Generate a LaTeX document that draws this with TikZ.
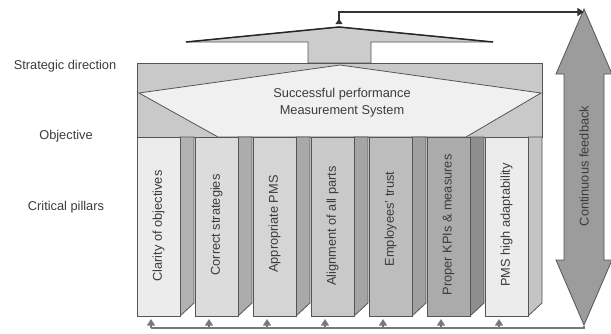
\documentclass[tikz,border=0pt]{standalone}
\usepackage{fontspec}
\setmainfont{Liberation Sans}
\usetikzlibrary{arrows.meta}
\definecolor{edge}{HTML}{555555}
\definecolor{boxfill}{HTML}{C9C9C9}
\definecolor{banfill}{HTML}{F0F0F0}
\definecolor{rooffill}{HTML}{CCCCCC}
\definecolor{txt}{HTML}{3C3C3C}
\definecolor{fbfill}{HTML}{9C9C9C}
\definecolor{fbline}{HTML}{787878}
\definecolor{f1}{HTML}{ECECEC}\definecolor{s1}{HTML}{B2B2B2}
\definecolor{f2}{HTML}{DCDCDC}\definecolor{s2}{HTML}{ACACAC}
\definecolor{f3}{HTML}{D5D5D5}\definecolor{s3}{HTML}{A9A9A9}
\definecolor{f4}{HTML}{C9C9C9}\definecolor{s4}{HTML}{A5A5A5}
\definecolor{f5}{HTML}{BDBDBD}\definecolor{s5}{HTML}{A0A0A0}
\definecolor{f6}{HTML}{ABABAB}\definecolor{s6}{HTML}{8E8E8E}
\definecolor{f7}{HTML}{ECECEC}\definecolor{s7}{HTML}{C4C4C4}
\begin{document}
\begin{tikzpicture}[x=0.75pt,y=-0.75pt,
  shape line/.style={draw=edge,line width=0.6pt,line join=miter},
  label text/.style={text=txt,font=\fontsize{9.6}{11}\selectfont,inner sep=0pt},
  ptext/.style={label text,rotate=90},
  topline/.style={draw=black!80,line width=1.4pt,{Triangle[reversed,width=5pt,length=4pt]}-{Triangle[width=6pt,length=5pt]}},
  botline/.style={draw=fbline,line width=2.2pt},
  stemline/.style={draw=fbline,line width=1.2pt,-{Triangle[width=6pt,length=5pt]}}]
\useasboundingbox (0,0) rectangle (611,333);
\fill[white] (0,0) rectangle (611,333);

% roof arrow
\filldraw[shape line,fill=rooffill] (186,42) -- (339,27) -- (493,42) -- (371,42) -- (371,63) -- (308,63) -- (308,42) -- cycle;
\draw[line width=1.1pt,black!85] (186,42) -- (339,27) -- (493,42);

% main box (strategic direction)
\filldraw[shape line,fill=boxfill] (137,63) rectangle (542,137);
% banner (objective)
\filldraw[shape line,fill=banfill] (139,93) -- (340,65) -- (541,93) -- (466,137) -- (218,137) -- cycle;
\node[label text,align=center] (obj) at (342,103) {Successful performance\\[1.5pt]Measurement System};

% pillars
\foreach \i/\fc/\sc/\t/\ty in {
  0/f1/s1/{Clarity of objectives}/226,
  1/f2/s2/{Correct strategies}/225,
  2/f3/s3/{Appropriate PMS}/224,
  3/f4/s4/{Alignment of all parts}/226,
  4/f5/s5/{Employees’ trust}/219,
  5/f6/s6/{Proper KPIs \& measures}/225,
  6/f7/s7/{PMS high adaptability}/225}{
  \pgfmathsetmacro\xa{137+58*\i}
  \filldraw[shape line,fill=\sc] (\xa+43,137) -- (\xa+57,137) -- (\xa+57,303) -- (\xa+43,316) -- cycle;
  \filldraw[shape line,fill=\fc] (\xa,137) rectangle (\xa+43,316);
  \node[ptext] (pt\i) at (\xa+21.5,\ty) {\t};
  \coordinate (b\i) at (151+58*\i,319);
}

% left labels
\node[label text] (lsd) at (65,66) {Strategic direction};
\node[label text] (lob) at (66,136) {Objective};
\node[label text] (lcp) at (66,207) {Critical pillars};

% continuous feedback arrow
\filldraw[shape line,fill=fbfill] (584,9) -- (612,74) -- (604,74) -- (604,260) -- (612,260) -- (584,325) -- (556,260) -- (564,260) -- (564,74) -- (556,74) -- cycle;
\node[ptext] (fb) at (584,166) {Continuous feedback};
\coordinate (fbtop) at (584,12);
\coordinate (fbbot) at (584,326);

% top feedback connector
\coordinate (rooftop) at (339,24);
\draw[topline] (rooftop) |- (fbtop);

% bottom feedback connector
\coordinate (corner) at (151,328);
\draw[botline] (fbbot) |- (corner);
\foreach \i in {0,...,6}{
  \draw[stemline] (b\i |- corner) -- (b\i);
}
\end{tikzpicture}
\end{document}
